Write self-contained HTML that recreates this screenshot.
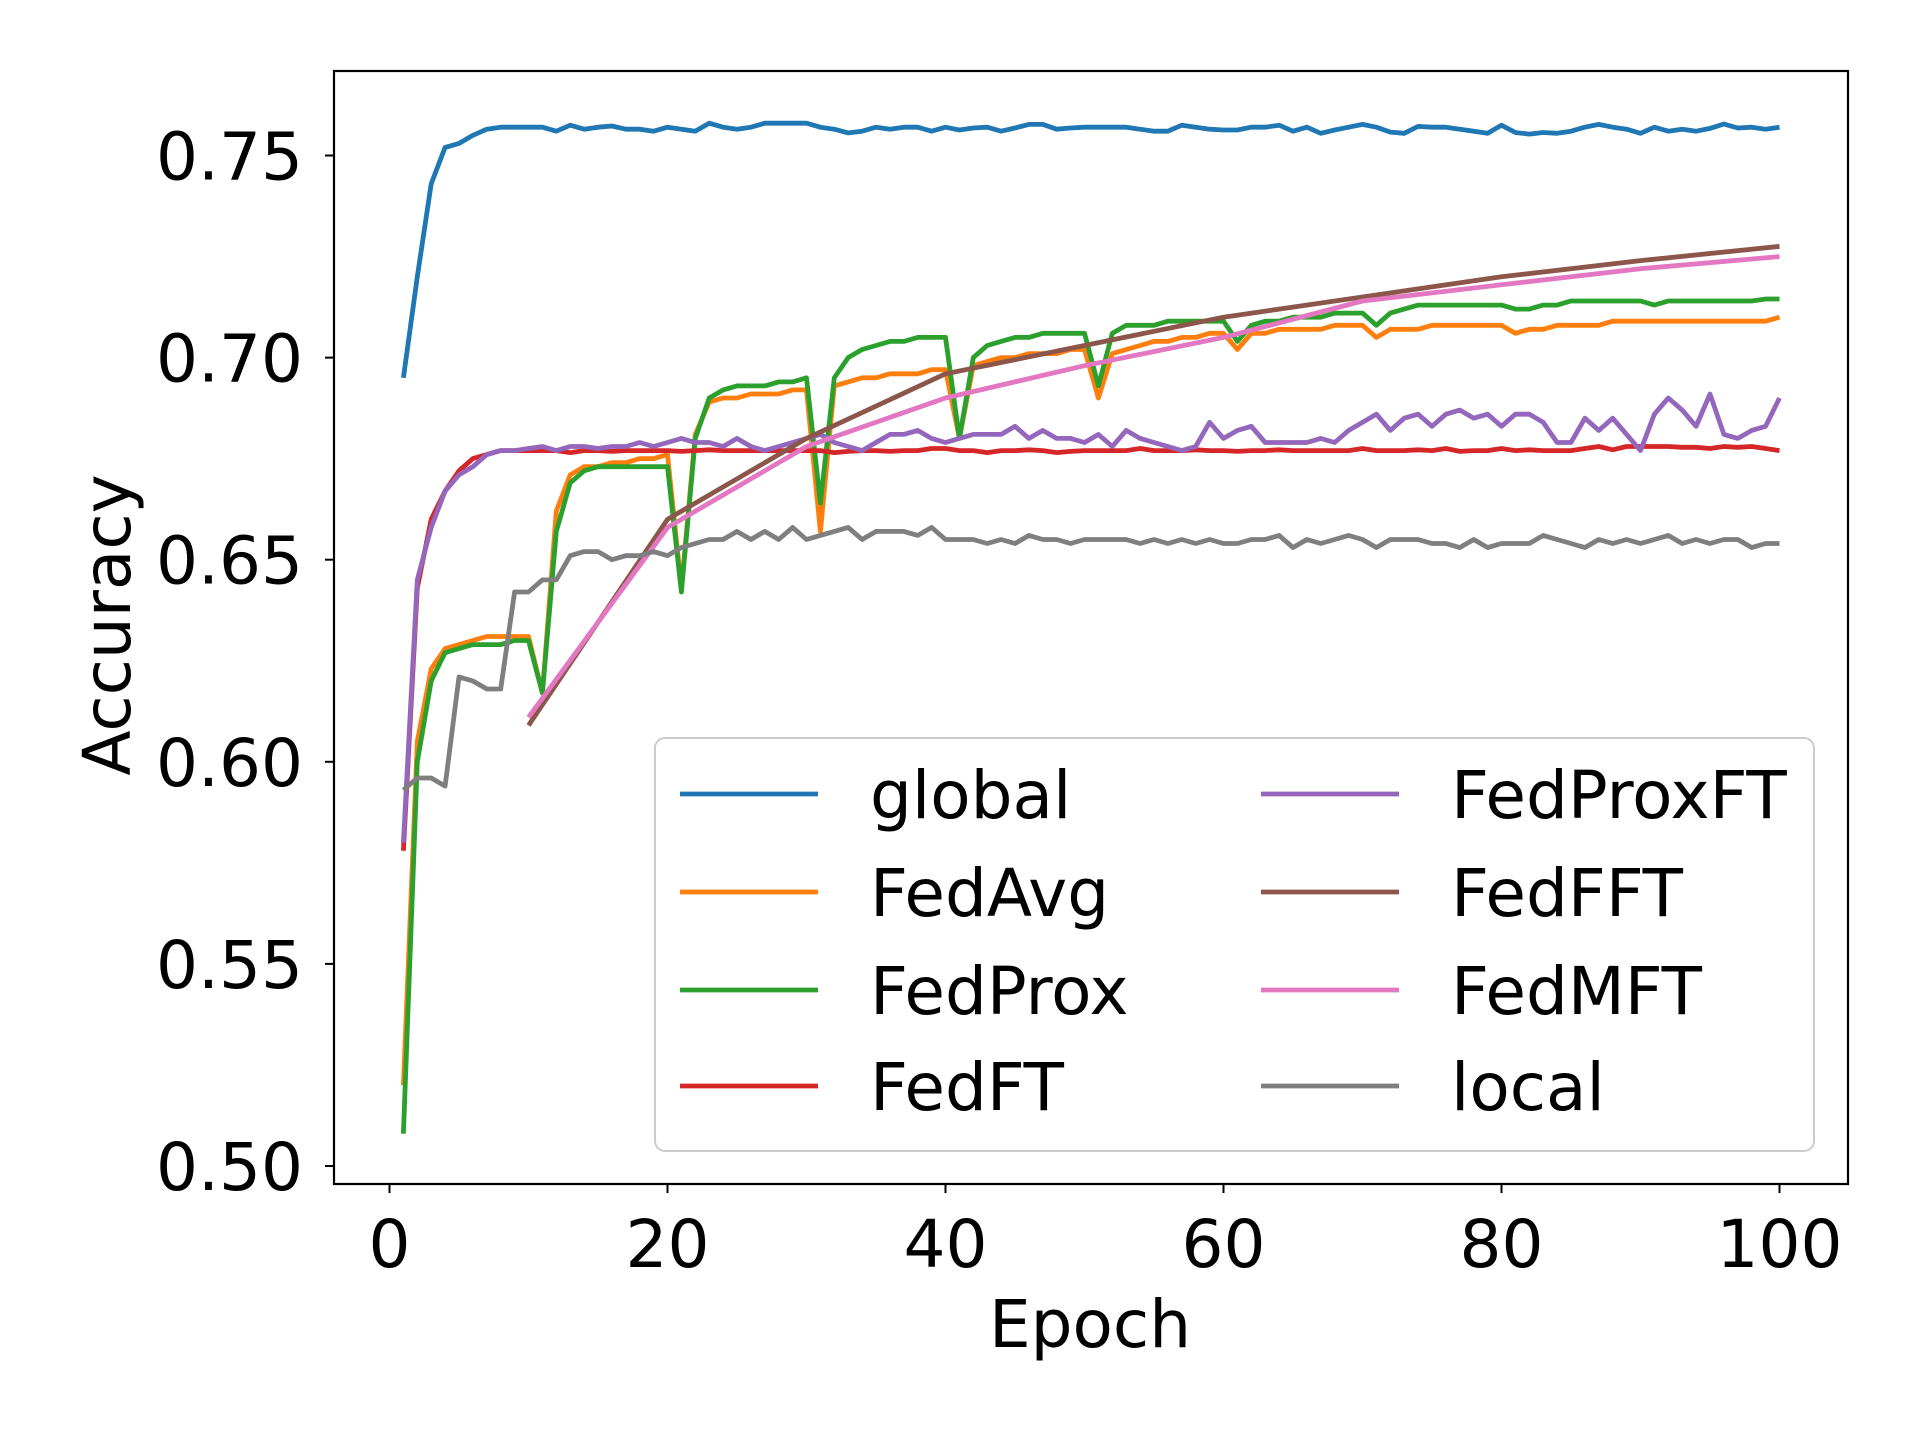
<!DOCTYPE html>
<html><head><meta charset="utf-8"><style>
html,body{margin:0;padding:0;background:#fff;}
svg{display:block;font-family:"DejaVu Sans","Liberation Sans",sans-serif;}
</style></head><body>
<svg id="chart" width="1920" height="1440" viewBox="0 0 1920 1440" xmlns="http://www.w3.org/2000/svg"></svg>
<script>
const epochs = Array.from({length:100},(_,i)=>i+1);
const sparseEpochs = [10,20,30,40,50,60,70,80,90,100];
const yTicks = [0.50,0.55,0.60,0.65,0.70,0.75];
const xTicks = [0,20,40,60,80,100];
const globalVals = [0.695,0.720,0.743,0.752,0.753,0.755,0.7565,0.757,0.757,0.757,0.757,0.756,0.7575,0.7565,0.757,0.7573,0.7565,0.7565,0.756,0.757,0.7565,0.756,0.758,0.757,0.7565,0.757,0.758,0.758,0.758,0.758,0.757,0.7565,0.7556,0.756,0.757,0.7565,0.757,0.757,0.756,0.757,0.7563,0.7568,0.757,0.756,0.7568,0.7577,0.7577,0.7565,0.7568,0.757,0.757,0.757,0.757,0.7565,0.756,0.756,0.7575,0.757,0.7565,0.7563,0.7563,0.757,0.757,0.7575,0.756,0.757,0.7555,0.7563,0.757,0.7577,0.757,0.7558,0.7555,0.7572,0.757,0.757,0.7565,0.756,0.7555,0.7575,0.7557,0.7553,0.7557,0.7555,0.756,0.757,0.7577,0.757,0.7565,0.7555,0.757,0.756,0.7565,0.756,0.7567,0.7578,0.7568,0.757,0.7565,0.757,0.7555,0.7565,0.757];
const fedAvg = [0.520,0.605,0.623,0.628,0.629,0.630,0.631,0.631,0.631,0.631,0.617,0.662,0.671,0.673,0.673,0.674,0.674,0.675,0.675,0.676,0.643,0.681,0.689,0.690,0.690,0.691,0.691,0.691,0.692,0.692,0.657,0.693,0.694,0.695,0.695,0.696,0.696,0.696,0.697,0.697,0.680,0.698,0.699,0.700,0.700,0.701,0.701,0.701,0.702,0.702,0.690,0.701,0.702,0.703,0.704,0.704,0.705,0.705,0.706,0.706,0.702,0.706,0.706,0.707,0.707,0.707,0.707,0.708,0.708,0.708,0.705,0.707,0.707,0.707,0.708,0.708,0.708,0.708,0.708,0.708,0.706,0.707,0.707,0.708,0.708,0.708,0.708,0.709,0.709,0.709,0.709,0.709,0.709,0.709,0.709,0.709,0.709,0.709,0.709,0.710];
const fedProx = [0.508,0.600,0.620,0.627,0.628,0.629,0.629,0.629,0.630,0.630,0.617,0.657,0.669,0.672,0.673,0.673,0.673,0.673,0.673,0.673,0.642,0.680,0.690,0.692,0.693,0.693,0.693,0.694,0.694,0.695,0.664,0.695,0.700,0.702,0.703,0.704,0.704,0.705,0.705,0.705,0.680,0.700,0.703,0.704,0.705,0.705,0.706,0.706,0.706,0.706,0.693,0.706,0.708,0.708,0.708,0.709,0.709,0.709,0.709,0.709,0.704,0.708,0.709,0.709,0.710,0.710,0.710,0.711,0.711,0.711,0.708,0.711,0.712,0.713,0.713,0.713,0.713,0.713,0.713,0.713,0.712,0.712,0.713,0.713,0.714,0.714,0.714,0.714,0.714,0.714,0.713,0.714,0.714,0.714,0.714,0.714,0.714,0.714,0.7145,0.7145];
const fedFT = [0.578,0.643,0.660,0.667,0.672,0.675,0.676,0.677,0.677,0.677,0.677,0.677,0.6765,0.677,0.677,0.6768,0.677,0.677,0.677,0.677,0.6768,0.677,0.6772,0.677,0.677,0.677,0.677,0.677,0.677,0.677,0.677,0.6765,0.6768,0.677,0.677,0.6768,0.677,0.677,0.6775,0.6775,0.677,0.677,0.6765,0.677,0.677,0.6772,0.677,0.6765,0.6768,0.677,0.677,0.677,0.677,0.6775,0.677,0.677,0.677,0.6772,0.677,0.677,0.6768,0.677,0.677,0.6772,0.677,0.677,0.677,0.677,0.677,0.6775,0.677,0.677,0.677,0.6772,0.677,0.6775,0.6768,0.677,0.677,0.6775,0.677,0.6772,0.677,0.677,0.677,0.6775,0.678,0.6772,0.678,0.678,0.678,0.678,0.6778,0.6778,0.6775,0.678,0.6778,0.678,0.6775,0.677];
const fedProxFT = [0.580,0.645,0.658,0.667,0.671,0.673,0.676,0.677,0.677,0.6775,0.678,0.677,0.678,0.678,0.6775,0.678,0.678,0.679,0.678,0.679,0.680,0.679,0.679,0.678,0.680,0.678,0.677,0.678,0.679,0.680,0.681,0.679,0.678,0.677,0.679,0.681,0.681,0.682,0.680,0.679,0.680,0.681,0.681,0.681,0.683,0.680,0.682,0.680,0.680,0.679,0.681,0.678,0.682,0.680,0.679,0.678,0.677,0.678,0.684,0.680,0.682,0.683,0.679,0.679,0.679,0.679,0.680,0.679,0.682,0.684,0.686,0.682,0.685,0.686,0.683,0.686,0.687,0.685,0.686,0.683,0.686,0.686,0.684,0.679,0.679,0.685,0.682,0.685,0.681,0.677,0.686,0.690,0.687,0.683,0.691,0.681,0.680,0.682,0.683,0.690];
const local = [0.593,0.596,0.596,0.594,0.621,0.620,0.618,0.618,0.642,0.642,0.645,0.645,0.651,0.652,0.652,0.650,0.651,0.651,0.652,0.651,0.653,0.654,0.655,0.655,0.657,0.655,0.657,0.655,0.658,0.655,0.656,0.657,0.658,0.655,0.657,0.657,0.657,0.656,0.658,0.655,0.655,0.655,0.654,0.655,0.654,0.656,0.655,0.655,0.654,0.655,0.655,0.655,0.655,0.654,0.655,0.654,0.655,0.654,0.655,0.654,0.654,0.655,0.655,0.656,0.653,0.655,0.654,0.655,0.656,0.655,0.653,0.655,0.655,0.655,0.654,0.654,0.653,0.655,0.653,0.654,0.654,0.654,0.656,0.655,0.654,0.653,0.655,0.654,0.655,0.654,0.655,0.656,0.654,0.655,0.654,0.655,0.655,0.653,0.654,0.654];
const fedFFT = [0.609,0.660,0.680,0.696,0.703,0.710,0.715,0.720,0.724,0.7275];
const fedMFT = [0.611,0.658,0.678,0.690,0.698,0.705,0.714,0.718,0.722,0.725];

const L=334,R=1848,T=71,B=1184;
const X0=389.5,X1=1779.5;
const Y50=1166,Y75=155.5;
const xs=e=>X0+(X1-X0)*e/100;
const ys=v=>Y50-(v-0.5)/0.25*(Y50-Y75);
const svg=document.getElementById('chart');
const NS='http://www.w3.org/2000/svg';
function mk(tag,attrs,parent){const el=document.createElementNS(NS,tag);for(const k in attrs)el.setAttribute(k,attrs[k]);(parent||svg).appendChild(el);return el;}

const frame=mk('rect',{x:L,y:T,width:R-L,height:B-T,fill:'none',stroke:'#000','stroke-width':2.2});



yTicks.forEach(v=>{
  const t=mk('line',{x1:L-9,x2:L,y1:ys(v),y2:ys(v),stroke:'#000','stroke-width':2});
  
  
  const lb=mk('text',{x:303,y:ys(v)+24,'text-anchor':'end','font-size':66,fill:'#000'});
  lb.textContent=v.toFixed(2);
  
  
});
xTicks.forEach(v=>{
  const t=mk('line',{x1:xs(v),x2:xs(v),y1:B,y2:B+9,stroke:'#000','stroke-width':2});
  
  
  const lb=mk('text',{x:xs(v),y:1267,'text-anchor':'middle','font-size':66,fill:'#000'});
  lb.textContent=v;
  
  
});
const xl=mk('text',{x:1090,y:1347,'text-anchor':'middle','font-size':66,fill:'#000'});
xl.textContent='Epoch';


const yl=mk('text',{x:0,y:0,'text-anchor':'middle','font-size':66,fill:'#000',transform:'translate(130,625) rotate(-90)'});
yl.textContent='Accuracy';



const series=[
 {name:'global',x:epochs,y:globalVals,c:'#1f77b4'},
 {name:'FedAvg',x:epochs,y:fedAvg,c:'#ff7f0e'},
 {name:'FedProx',x:epochs,y:fedProx,c:'#2ca02c'},
 {name:'FedFT',x:epochs,y:fedFT,c:'#d62728'},
 {name:'FedProxFT',x:epochs,y:fedProxFT,c:'#9467bd'},
 {name:'FedFFT',x:sparseEpochs,y:fedFFT,c:'#8c564b'},
 {name:'FedMFT',x:sparseEpochs,y:fedMFT,c:'#e377c2'},
 {name:'local',x:epochs,y:local,c:'#7f7f7f'}
];
series.forEach(s=>{
  const d=s.y.map((v,i)=>(i?'L':'M')+xs(s.x[i]).toFixed(1)+','+ys(v).toFixed(1)).join(' ');
  const p=mk('path',{d:d,fill:'none',stroke:s.c,'stroke-width':4.8,'stroke-linejoin':'round'});
  
  
});

const lg=mk('g',{});


mk('rect',{x:655,y:738,width:1159,height:413,rx:10,fill:'#fff','fill-opacity':0.8,stroke:'#ccc','stroke-width':2},lg);
const rowsY=[794,892,990,1086];
series.forEach((s,i)=>{
  const col=Math.floor(i/4),row=i%4;
  const hx=col?1261:680,tx=col?1451:870,y=rowsY[row];
  const h=mk('line',{x1:hx,x2:hx+138,y1:y,y2:y,stroke:s.c,'stroke-width':4.8},lg);
  
  
  const t=mk('text',{x:tx,y:y+24,'font-size':66,fill:'#000'},lg);
  t.textContent=s.name;
  
  
});
</script>
</body></html>
